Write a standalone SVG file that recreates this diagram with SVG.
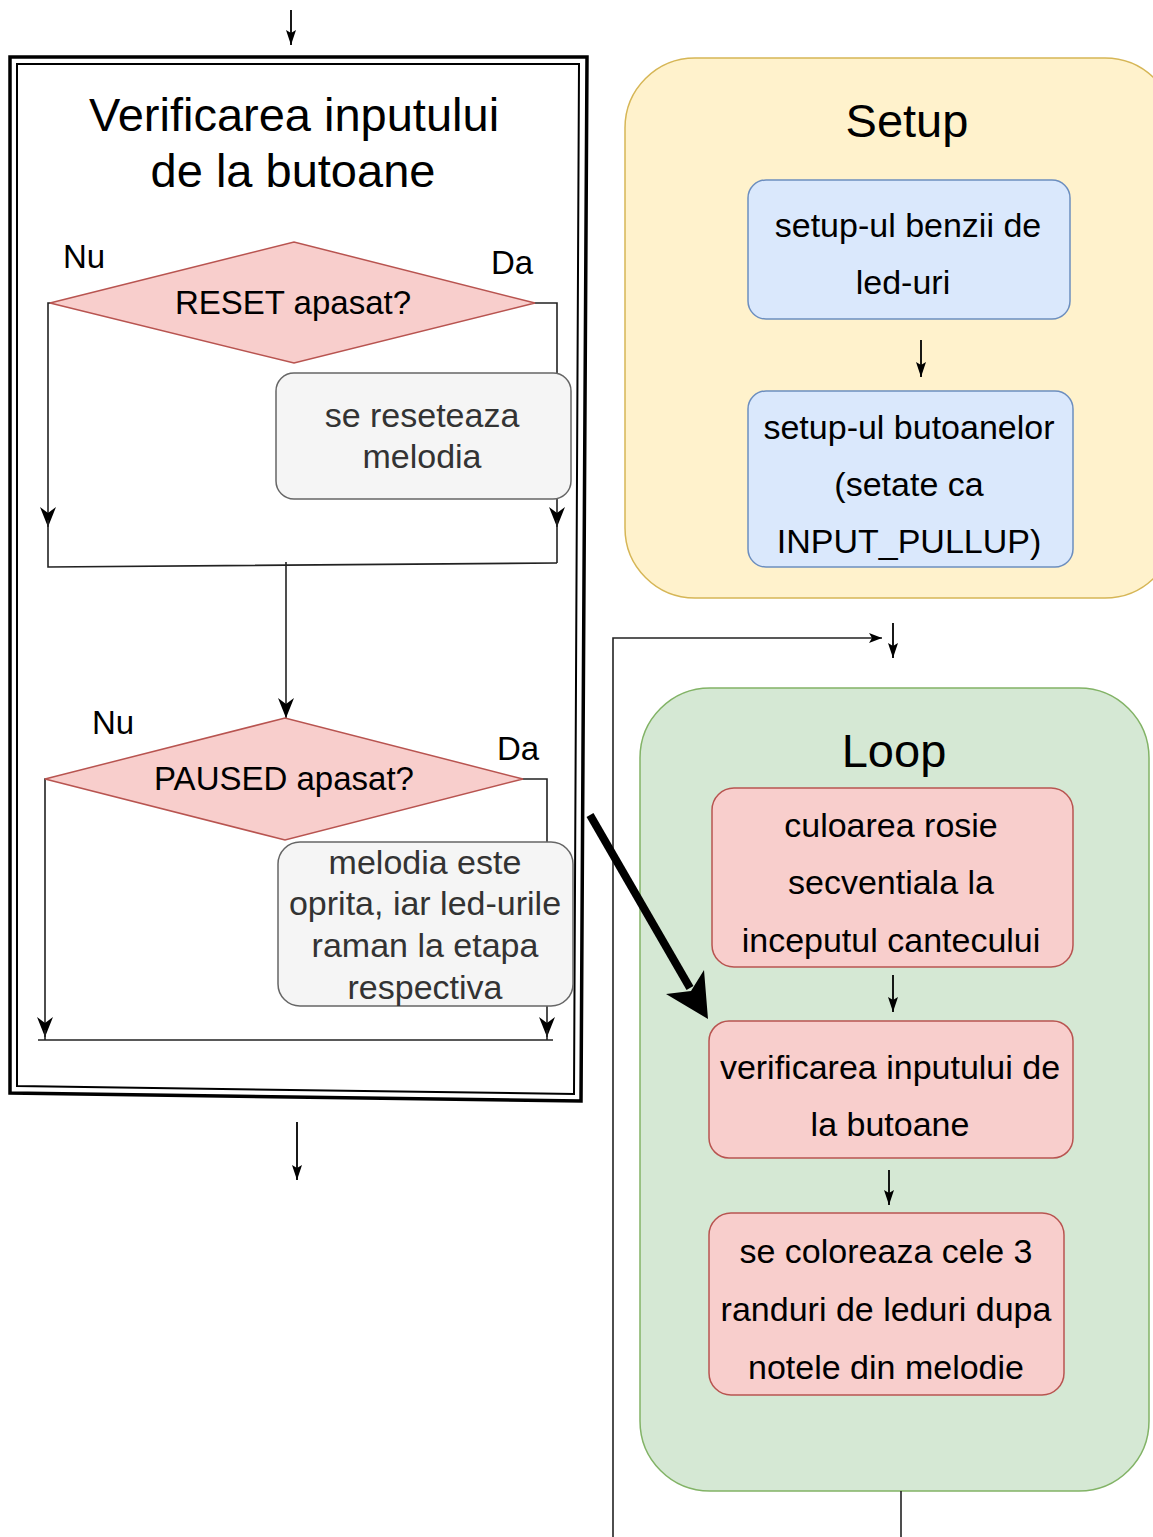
<svg xmlns="http://www.w3.org/2000/svg" width="1153" height="1537" viewBox="0 0 1153 1537">
<defs>
<style>
text{font-family:"Liberation Sans",Arial,sans-serif;text-anchor:middle;fill:#000}
.t34{font-size:34px}
.t33{font-size:33px}
.t47{font-size:47px}
.gray{fill:#333}
.ln{fill:none;stroke:#222;stroke-width:1.6}
.glyph{fill:none;stroke:#000;stroke-width:1.8}
.dia{fill:#f8cecc;stroke:#b85450;stroke-width:1.5}
.grayBox{fill:#f5f5f5;stroke:#666;stroke-width:1.5}
.blue{fill:#dae8fc;stroke:#6c8ebf;stroke-width:1.5}
.red{fill:#f8cecc;stroke:#b85450;stroke-width:1.5}
</style>
<marker id="classic" markerUnits="userSpaceOnUse" markerWidth="22" markerHeight="18" refX="20" refY="8" orient="auto">
<path d="M0,0 L20,8 L0,16 L6,8 z" fill="#000"/>
</marker>
<marker id="small" markerUnits="userSpaceOnUse" markerWidth="16" markerHeight="12" refX="15" refY="5" orient="auto">
<path d="M0,0 L15,5 L0,10 L3,5 z" fill="#000"/>
</marker>
<marker id="mid" markerUnits="userSpaceOnUse" markerWidth="14" markerHeight="12" refX="13" refY="5" orient="auto">
<path d="M0,0 L13,5 L0,10 L3,5 z" fill="#000"/>
</marker>
</defs>
<rect width="1153" height="1537" fill="#fff"/>

<g id="setup">
<rect x="625" y="58" width="550" height="540" rx="70" ry="70" fill="#fff2cc" stroke="#d6b656" stroke-width="1.5"/>
<text class="t47" x="907" y="137">Setup</text>
</g>
<g id="setup-banda">
<rect class="blue" x="748" y="180" width="322" height="139" rx="18"/>
<text class="t34" x="908" y="237">setup-ul benzii de</text>
<text class="t34" x="903" y="294">led-uri</text>
</g>
<g id="setup-butoane">
<rect class="blue" x="748" y="391" width="325" height="176" rx="18"/>
<text class="t34" x="909" y="439">setup-ul butoanelor</text>
<text class="t34" x="909" y="496">(setate ca</text>
<text class="t34" x="909" y="553">INPUT_PULLUP)</text>
</g>

<g id="loop">
<rect x="640" y="688" width="509" height="803" rx="70" ry="70" fill="#d5e8d4" stroke="#82b366" stroke-width="1.5"/>
<text class="t47" x="894" y="767">Loop</text>
</g>

<g id="frame">
<path d="M10,57 L587,57 L581,1101 L10,1093 Z" fill="#fff" stroke="#000" stroke-width="3.5"/>
<path d="M17,64 L579,64 L574,1094 L17,1086 Z" fill="none" stroke="#000" stroke-width="2"/>
<text class="t47" x="294" y="131">Verificarea inputului</text>
<text class="t47" x="293" y="187">de la butoane</text>
</g>

<g id="connectors">
<path class="glyph" d="M291,10 V45" marker-end="url(#small)"/>
<path class="ln" d="M52,303 H48 V527" marker-end="url(#classic)"/>
<path class="ln" d="M48,520 V567 L557,563"/>
<path class="ln" d="M533,303 H557 V527" marker-end="url(#classic)"/>
<path class="ln" d="M557,520 V563"/>
<path class="ln" d="M286,562 V718" marker-end="url(#classic)"/>
<path class="ln" d="M47,779 H45 V1037" marker-end="url(#classic)"/>
<path class="ln" d="M521,779 H547 V1037" marker-end="url(#classic)"/>
<path class="ln" d="M38,1040 H553"/>
<path class="ln" d="M45,1030 V1040 M547,1030 V1040"/>
<path class="glyph" d="M297,1122 V1180" marker-end="url(#small)"/>
<path class="glyph" d="M921,340 V377" marker-end="url(#small)"/>
<path class="ln" d="M613,1537 V638 H882" marker-end="url(#mid)"/>
<path class="glyph" d="M893,623 V658" marker-end="url(#small)"/>
<path class="glyph" d="M893,975 V1012" marker-end="url(#small)"/>
<path class="glyph" d="M889,1170 V1205" marker-end="url(#small)"/>
<path class="ln" d="M901,1491 V1537"/>
<path d="M590,815 L690,988" fill="none" stroke="#000" stroke-width="8"/>
<path d="M708,1019 L666,994 L691,991 L704,970 Z" fill="#000"/>
</g>

<g id="reset">
<path class="dia" d="M50,303 L294,242 L535,303 L294,363 Z"/>
<text class="t33" x="293" y="314">RESET apasat?</text>
<text class="t33" x="84" y="268">Nu</text>
<text class="t33" x="512" y="274">Da</text>
</g>
<g id="reset-action">
<rect class="grayBox" x="276" y="373" width="295" height="126" rx="18"/>
<text class="t34 gray" x="422" y="427">se reseteaza</text>
<text class="t34 gray" x="422" y="468">melodia</text>
</g>
<g id="paused">
<path class="dia" d="M45,779 L285,718 L523,779 L285,840 Z"/>
<text class="t33" x="284" y="790">PAUSED apasat?</text>
<text class="t33" x="113" y="734">Nu</text>
<text class="t33" x="518" y="760">Da</text>
</g>
<g id="paused-action">
<rect class="grayBox" x="278" y="842" width="295" height="164" rx="22"/>
<text class="t34 gray" x="425" y="874">melodia este</text>
<text class="t34 gray" x="425" y="915">oprita, iar led-urile</text>
<text class="t34 gray" x="425" y="957">raman la etapa</text>
<text class="t34 gray" x="425" y="999">respectiva</text>
</g>

<g id="loop-rosie">
<rect class="red" x="712" y="788" width="361" height="179" rx="22"/>
<text class="t34" x="891" y="837">culoarea rosie</text>
<text class="t34" x="891" y="894">secventiala la</text>
<text class="t34" x="891" y="952">inceputul cantecului</text>
</g>
<g id="loop-verificare">
<rect class="red" x="709" y="1021" width="364" height="137" rx="20"/>
<text class="t34" x="890" y="1079">verificarea inputului de</text>
<text class="t34" x="890" y="1136">la butoane</text>
</g>
<g id="loop-coloreaza">
<rect class="red" x="709" y="1213" width="355" height="182" rx="22"/>
<text class="t34" x="886" y="1263">se coloreaza cele 3</text>
<text class="t34" x="886" y="1321">randuri de leduri dupa</text>
<text class="t34" x="886" y="1379">notele din melodie</text>
</g>
</svg>
